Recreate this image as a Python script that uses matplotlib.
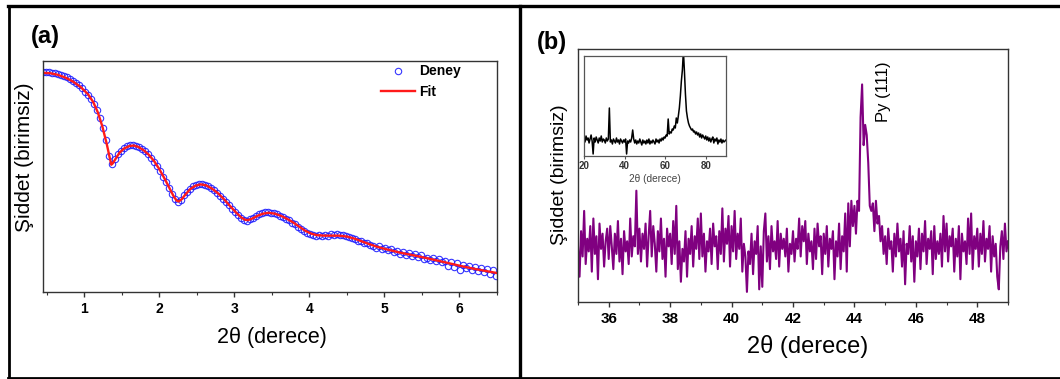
import numpy as np
import matplotlib
matplotlib.use("Agg")
import matplotlib.pyplot as plt
from matplotlib.lines import Line2D
from matplotlib.ticker import MultipleLocator

plt.rcParams['font.family'] = ['Liberation Sans', 'DejaVu Sans']

# ---- panel (a): reflectivity, measured (Deney) and fit ----
deney_x = np.round(np.arange(0.45, 6.50, 0.04), 2)
deney_y = [
    0.952, 0.952, 0.951, 0.950, 0.947, 0.944, 0.940, 0.935, 0.929, 0.922,
    0.914, 0.905, 0.894, 0.882, 0.866, 0.851, 0.834, 0.813, 0.786, 0.752,
    0.710, 0.656, 0.590, 0.555, 0.574, 0.596, 0.612, 0.623, 0.630, 0.636,
    0.637, 0.634, 0.629, 0.620, 0.609, 0.596, 0.581, 0.563, 0.545, 0.523,
    0.500, 0.477, 0.450, 0.425, 0.402, 0.390, 0.399, 0.418, 0.435, 0.448,
    0.458, 0.464, 0.468, 0.468, 0.465, 0.459, 0.451, 0.442, 0.430, 0.417,
    0.404, 0.389, 0.375, 0.360, 0.345, 0.333, 0.321, 0.312, 0.309, 0.314,
    0.322, 0.330, 0.338, 0.343, 0.345, 0.347, 0.344, 0.342, 0.337, 0.331,
    0.326, 0.318, 0.310, 0.300, 0.293, 0.283, 0.272, 0.264, 0.256, 0.250,
    0.246, 0.244, 0.248, 0.243, 0.247, 0.242, 0.249, 0.245, 0.250, 0.246,
    0.248, 0.243, 0.240, 0.233, 0.231, 0.222, 0.220, 0.212, 0.211, 0.203,
    0.199, 0.192, 0.197, 0.186, 0.190, 0.180, 0.184, 0.172, 0.177, 0.166,
    0.173, 0.160, 0.167, 0.155, 0.163, 0.152, 0.161, 0.143, 0.149, 0.140,
    0.147, 0.133, 0.142, 0.128, 0.136, 0.112, 0.131, 0.108, 0.125, 0.097,
    0.118, 0.102, 0.113, 0.094, 0.109, 0.090, 0.103, 0.085, 0.100, 0.078,
    0.094, 0.070,
]

fit_x = [0.45, 0.55, 0.65, 0.75, 0.85, 0.95, 1.05, 1.12, 1.18, 1.24,
         1.30, 1.34, 1.36, 1.38, 1.42, 1.47, 1.53, 1.60, 1.66, 1.72,
         1.79, 1.86, 1.93, 2.00, 2.07, 2.13, 2.19, 2.23, 2.26, 2.30,
         2.35, 2.41, 2.48, 2.55, 2.62, 2.70, 2.78, 2.86, 2.94, 3.02,
         3.09, 3.14, 3.18, 3.24, 3.31, 3.38, 3.46, 3.54, 3.62, 3.70,
         3.78, 3.86, 3.94, 4.02, 4.10, 4.20, 4.30, 4.40, 4.50, 4.60,
         4.70, 4.80, 4.90, 5.00, 5.20, 5.40, 5.60, 5.80, 6.00, 6.20,
         6.40, 6.50]
fit_y = [0.949, 0.947, 0.940, 0.928, 0.911, 0.888, 0.856, 0.822, 0.778, 0.718,
         0.640, 0.580, 0.551, 0.557, 0.578, 0.603, 0.621, 0.632, 0.634, 0.628,
         0.614, 0.594, 0.567, 0.532, 0.491, 0.453, 0.415, 0.396, 0.392, 0.402,
         0.423, 0.445, 0.460, 0.466, 0.462, 0.448, 0.428, 0.402, 0.373, 0.345,
         0.323, 0.313, 0.311, 0.318, 0.330, 0.339, 0.343, 0.339, 0.330, 0.317,
         0.302, 0.284, 0.266, 0.253, 0.246, 0.244, 0.244, 0.244, 0.240, 0.231,
         0.219, 0.207, 0.196, 0.187, 0.171, 0.158, 0.144, 0.129, 0.114, 0.100,
         0.088, 0.082]

# ---- panel (b): XRD scan around Py (111) ----
xrd_x = np.round(np.arange(35.0, 49.001, 0.05), 2)
xrd_y = [
    0.22, 0.10, 0.28, 0.18, 0.36, 0.15, 0.25, 0.20, 0.30, 0.12, 0.33, 0.19, 0.26, 0.09, 0.31, 0.21, 0.27, 0.14, 0.24, 0.29,
    0.17, 0.30, 0.22, 0.13, 0.27, 0.19, 0.32, 0.16, 0.25, 0.11, 0.28, 0.20, 0.24, 0.15, 0.33, 0.18, 0.26, 0.22, 0.44, 0.19,
    0.29, 0.16, 0.27, 0.21, 0.31, 0.14, 0.26, 0.36, 0.18, 0.30, 0.23, 0.12, 0.28, 0.20, 0.33, 0.17, 0.25, 0.10, 0.29, 0.22,
    0.27, 0.15, 0.32, 0.19, 0.38, 0.13, 0.24, 0.08, 0.21, 0.16, 0.28, 0.10, 0.25, 0.19, 0.30, 0.14, 0.26, 0.21, 0.33, 0.17,
    0.35, 0.18, 0.27, 0.12, 0.24, 0.20, 0.29, 0.15, 0.31, 0.22, 0.26, 0.13, 0.28, 0.19, 0.37, 0.16, 0.29, 0.23, 0.34, 0.14,
    0.30, 0.20, 0.36, 0.17, 0.27, 0.21, 0.33, 0.12, 0.23, 0.18, 0.04, 0.20, 0.15, 0.27, 0.11, 0.24, 0.19, 0.30, 0.05, 0.22,
    0.06, 0.28, 0.35, 0.16, 0.26, 0.13, 0.30, 0.20, 0.24, 0.17, 0.32, 0.14, 0.27, 0.21, 0.25, 0.18, 0.29, 0.12, 0.23, 0.19,
    0.28, 0.16, 0.25, 0.21, 0.33, 0.18, 0.30, 0.24, 0.32, 0.15, 0.27, 0.20, 0.24, 0.13, 0.29, 0.17, 0.31, 0.22, 0.26, 0.11,
    0.27, 0.19, 0.30, 0.14, 0.25, 0.21, 0.28, 0.09, 0.24, 0.18, 0.31, 0.13, 0.26, 0.20, 0.35, 0.12, 0.39, 0.22, 0.40, 0.30,
    0.38, 0.27, 0.40, 0.36, 0.73, 0.86, 0.62, 0.70, 0.66, 0.55, 0.38, 0.36, 0.39, 0.28, 0.40, 0.31, 0.34, 0.24, 0.30, 0.19,
    0.26, 0.15, 0.29, 0.21, 0.24, 0.12, 0.27, 0.18, 0.31, 0.20, 0.25, 0.14, 0.28, 0.07, 0.23, 0.19, 0.30, 0.16, 0.26, 0.08,
    0.24, 0.18, 0.29, 0.13, 0.27, 0.20, 0.32, 0.15, 0.25, 0.21, 0.28, 0.11, 0.30, 0.17, 0.24, 0.19, 0.27, 0.14, 0.34, 0.20,
    0.31, 0.16, 0.26, 0.22, 0.29, 0.12, 0.25, 0.18, 0.30, 0.09, 0.27, 0.20, 0.24, 0.15, 0.33, 0.19, 0.35, 0.13, 0.26, 0.21,
    0.29, 0.14, 0.27, 0.19, 0.32, 0.16, 0.25, 0.21, 0.30, 0.12, 0.26, 0.18, 0.23, 0.10, 0.05, 0.22, 0.28, 0.17, 0.31, 0.20,
    0.24,
]

# inset: wide scan 20-90
wide_x = np.round(np.arange(20.0, 90.001, 0.5), 1)
wide_y = [
    0.19, 0.14, 0.20, 0.16, 0.18, 0.13, 0.17, 0.21, 0.15, 0.02, 0.18, 0.14, 0.19, 0.16, 0.13, 0.18, 0.15, 0.20, 0.14, 0.17,
    0.16, 0.13, 0.18, 0.15, 0.17, 0.48, 0.14, 0.16, 0.12, 0.17, 0.15, 0.13, 0.18, 0.14, 0.16, 0.12, 0.17, 0.15, 0.13, 0.16,
    0.14, 0.17, 0.02, 0.15, 0.13, 0.16, 0.14, 0.18, 0.26, 0.17, 0.13, 0.16, 0.12, 0.15, 0.13, 0.17, 0.14, 0.11, 0.16, 0.13,
    0.15, 0.12, 0.16, 0.13, 0.17, 0.12, 0.15, 0.13, 0.16, 0.14, 0.12, 0.17, 0.14, 0.16, 0.13, 0.17, 0.15, 0.18, 0.16, 0.19,
    0.18, 0.21, 0.20, 0.37, 0.22, 0.24, 0.23, 0.27, 0.26, 0.30, 0.28, 0.38, 0.33, 0.40, 0.48, 0.60, 0.75, 0.86, 1.05, 0.85,
    0.62, 0.45, 0.38, 0.33, 0.30, 0.28, 0.26, 0.27, 0.24, 0.25, 0.22, 0.24, 0.21, 0.23, 0.19, 0.22, 0.18, 0.21, 0.19, 0.17,
    0.20, 0.16, 0.19, 0.15, 0.18, 0.14, 0.17, 0.19, 0.13, 0.17, 0.15, 0.18, 0.12, 0.16, 0.14, 0.17, 0.13, 0.16, 0.14, 0.15,
    0.16,
]

W, H = 1060, 379
fig = plt.figure(figsize=(W / 100, H / 100), dpi=100)


def fax(left, top, right, bottom):
    # axes rectangle from pixel edges
    return [left / W, 1 - bottom / H, (right - left) / W, (bottom - top) / H]


def style(ax, fs=10):
    for s in ax.spines.values():
        s.set_color('#333333')
        s.set_linewidth(1.0)
    ax.tick_params(axis='x', which='both', direction='out', colors='#333333',
                   labelcolor='black', labelsize=fs, top=False)
    ax.tick_params(axis='x', which='major', length=3.5, width=1)
    ax.tick_params(axis='x', which='minor', length=2, width=0.8)
    ax.tick_params(axis='y', which='both', left=False, right=False, labelleft=False)
    for t in ax.get_xticklabels():
        t.set_fontweight('bold')


# panel (a)
ax1 = fig.add_axes(fax(43, 61, 497, 292))
ax1.plot(deney_x, deney_y, 'o', ls='none', ms=4.6, mfc='none', mec='#2020ff',
         mew=0.8, alpha=0.9, label='Deney')
ax1.plot(fit_x, fit_y, '-', color='#ff1a1a', lw=1.7, label='Fit')
ax1.set_xlim(0.45, 6.5)
ax1.set_ylim(0, 1)
ax1.xaxis.set_major_locator(MultipleLocator(1))
ax1.xaxis.set_minor_locator(MultipleLocator(0.5))
style(ax1)
ax1.legend(loc='upper left', bbox_to_anchor=(0.745, 0.985), frameon=False,
           borderaxespad=0, borderpad=0, handlelength=2.4, handletextpad=0.35,
           labelspacing=0.45, numpoints=1, prop={'weight': 'bold', 'size': 10})
fig.text(272 / W, 1 - 338 / H, '2θ (derece)', fontsize=15.5, ha='center', va='center')
fig.text(25 / W, 1 - 157 / H, 'Şiddet (birimsiz)', fontsize=15, rotation=90,
         ha='center', va='center')
fig.text(45 / W, 1 - 37 / H, '(a)', fontsize=17, fontweight='bold', ha='center', va='center')

# panel (b)
ax2 = fig.add_axes(fax(578, 49, 1008, 302))
ax2.plot(xrd_x, xrd_y, color='#800080', lw=1.5)
ax2.set_xlim(35, 49)
ax2.set_ylim(0, 1)
ax2.xaxis.set_major_locator(MultipleLocator(2))
ax2.xaxis.set_minor_locator(MultipleLocator(1))
style(ax2, fs=11)
ax2.text(44.95, 0.83, 'Py (111)', rotation=90, fontsize=12, ha='center', va='center')
fig.text(808 / W, 1 - 347 / H, '2θ (derece)', fontsize=17, ha='center', va='center')
fig.text(559 / W, 1 - 175 / H, 'Şiddet (birimsiz)', fontsize=14, rotation=90,
         ha='center', va='center')
fig.text(552 / W, 1 - 42 / H, '(b)', fontsize=17, fontweight='bold', ha='center', va='center')

# inset
ax3 = fig.add_axes(fax(584, 56, 726, 156))
ax3.plot(wide_x, wide_y, color='black', lw=1.1)
ax3.set_xlim(20, 90)
ax3.set_ylim(0, 1)
ax3.xaxis.set_major_locator(MultipleLocator(20))
for s in ax3.spines.values():
    s.set_color('#555555')
    s.set_linewidth(0.9)
ax3.tick_params(axis='x', direction='out', length=2, width=0.8, labelsize=7,
                colors='#555555', labelcolor='#333333', pad=1.5)
ax3.tick_params(axis='y', left=False, labelleft=False)
for t in ax3.get_xticklabels():
    t.set_fontweight('bold')
ax3.set_xlabel('2θ (derece)', fontsize=7.3, color='#444444', labelpad=2)

# panel frames
frame = dict(color='black', transform=fig.transFigure)
fig.add_artist(Line2D([8 / W, 1], [1 - 5.5 / H] * 2, lw=2.4, **frame))
fig.add_artist(Line2D([8 / W, 1], [1 - 377.5 / H] * 2, lw=2.0, **frame))
fig.add_artist(Line2D([8.5 / W] * 2, [1 - 377.5 / H, 1 - 5.5 / H], lw=2.0, **frame))
fig.add_artist(Line2D([519.5 / W] * 2, [1 - 377.5 / H, 1 - 5.5 / H], lw=2.4, **frame))

fig.savefig('out.png', dpi=100)
plt.close('all')
